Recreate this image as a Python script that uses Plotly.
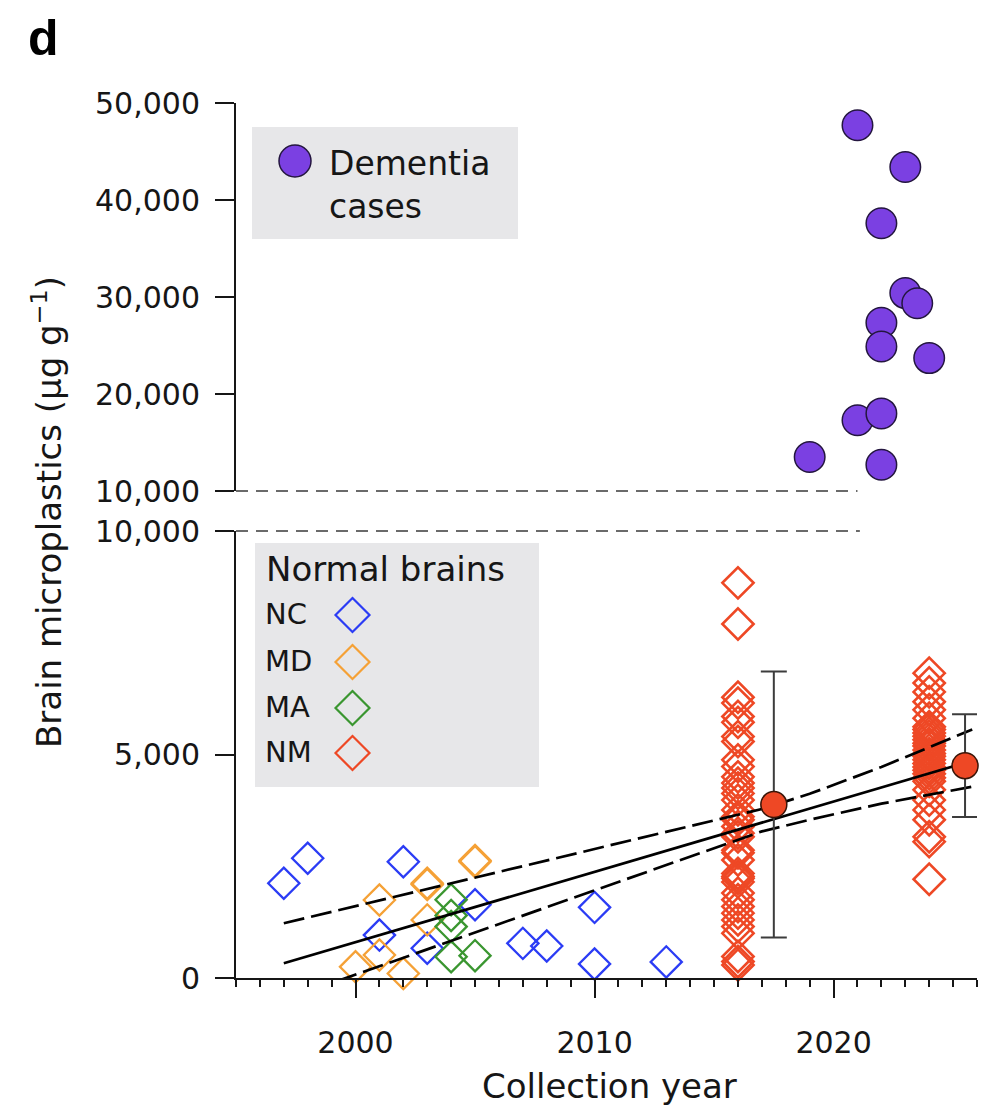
import plotly.graph_objects as go

# ---------------- data ----------------
# Dementia cases (upper panel)
dementia_year = [2021, 2023, 2022, 2023, 2023.5, 2022, 2022, 2024, 2021, 2022, 2019, 2022]
dementia_value = [47700, 43400, 37600, 30400, 29350, 27350, 24900, 23700, 17300, 18000, 13500, 12700]

# Normal brains (lower panel), by cohort
nc_year = [1997, 1998, 2001, 2002, 2003, 2005, 2007, 2008, 2010, 2010, 2013]
nc_value = [2120, 2680, 960, 2600, 665, 1640, 775, 715, 1580, 315, 360]

md_year = [2000, 2001, 2001, 2002, 2003, 2003, 2003, 2005, 2005]
md_value = [250, 1745, 515, 100, 2120, 2090, 1300, 2600, 2630]

ma_year = [2004, 2004, 2004, 2004, 2005]
ma_value = [1750, 1400, 1150, 475, 500]

nm_2016_value = [8840, 7920, 6280, 6150, 5850, 5720, 5400, 5290, 4880, 4730,
                 4500, 4360, 4250, 4130, 3980, 3760, 3610, 3540, 3390, 3240,
                 3160, 2860, 2800, 2640, 2340, 2270, 2230, 2150, 1900, 1750,
                 1600, 1450, 1300, 1150, 1000, 480, 370, 290]
nm_2024_value = [6820, 6600, 6400, 6180, 6000, 5810, 5620, 5560, 5480, 5410,
                 5330, 5250, 5190, 5100, 5020, 4960, 4880, 4800, 4720, 4650,
                 4570, 4480, 4400, 4210, 3980, 3760, 3540, 3160, 3050, 2210]

# NM summary (mean ± s.d.)
summary_year = [2017.5, 2025.5]
summary_mean = [3880, 4750]
summary_sd = [2975, 1150]

# Linear trend with 95% confidence band
fit_year = [1997, 2002, 2007, 2012, 2015, 2017, 2019, 2022, 2025.8]
fit_mid = [330, 1115, 1900, 2685, 3160, 3475, 3790, 4265, 4860]
fit_upper = [1224, 1860, 2495, 3130, 3520, 3780, 4120, 4720, 5560]
fit_lower = [-490, 455, 1400, 2345, 2910, 3280, 3540, 3900, 4280]

# ---------------- styling ----------------
FONT = "DejaVu Sans"
INK = "#161616"
C_NC = "#2B3CF5"
C_MD = "#F5A136"
C_MA = "#3A9630"
C_NM = "#EE4825"
C_DEM = "#7B40E2"
C_BOX = "#E7E7E9"

W, H = 995, 1110
L, R, T, B = 236, 18, 100, 132
PW, PH = W - L - R, H - T - B


def px_x(px):
    return (px - L) / PW


def px_y(py):
    return (H - B - py) / PH


upper_domain = [px_y(491), px_y(103)]
lower_domain = [0, px_y(531)]

fig = go.Figure()

nm_year = [2016] * len(nm_2016_value) + [2024] * len(nm_2024_value)
nm_value = nm_2016_value + nm_2024_value

for xs, ys, col, lw in [(nm_year, nm_value, C_NM, 2.6), (nc_year, nc_value, C_NC, 2.3),
                        (md_year, md_value, C_MD, 2.3), (ma_year, ma_value, C_MA, 2.3)]:
    fig.add_trace(go.Scatter(
        x=xs, y=ys, mode="markers", xaxis="x", yaxis="y",
        marker=dict(color=col, symbol="diamond-open", size=24, line=dict(width=lw)),
        cliponaxis=False, showlegend=False, hoverinfo="skip"))

# trend line and confidence band
fig.add_trace(go.Scatter(x=fit_year, y=fit_mid, mode="lines", xaxis="x", yaxis="y",
                         line=dict(color="black", width=2.7), showlegend=False))
for band in (fit_upper, fit_lower):
    fig.add_trace(go.Scatter(x=fit_year, y=band, mode="lines", xaxis="x", yaxis="y",
                             line=dict(color="black", width=2.7, dash="21px,7px"),
                             showlegend=False))

# NM mean ± s.d.
fig.add_trace(go.Scatter(
    x=summary_year, y=summary_mean, mode="markers", xaxis="x", yaxis="y",
    marker=dict(color=C_NM, size=26, line=dict(color="#3a1508", width=1.5)),
    error_y=dict(type="data", array=summary_sd, visible=True,
                 color="#3c3c3c", thickness=2, width=13),
    cliponaxis=False, showlegend=False))

# dementia cases
fig.add_trace(go.Scatter(
    x=dementia_year, y=dementia_value, mode="markers", xaxis="x", yaxis="y2",
    marker=dict(color=C_DEM, size=30.5, line=dict(color="#24163f", width=1.5)),
    cliponaxis=False, showlegend=False))

tickfont = dict(family=FONT, size=30, color=INK)
yax_common = dict(showline=True, linecolor=INK, linewidth=2, ticks="outside",
                  ticklen=19, tickwidth=2, tickcolor=INK, showgrid=False,
                  zeroline=False, tickfont=tickfont, tickformat=",",
                  ticklabelstandoff=9, anchor="x")

fig.update_layout(
    width=W, height=H,
    margin=dict(l=L, r=R, t=T, b=B),
    paper_bgcolor="white", plot_bgcolor="white",
    showlegend=False,
    xaxis=dict(range=[1995, 2026], tickmode="linear", tick0=2000, dtick=10,
               ticks="outside", ticklen=18, tickwidth=2, tickcolor=INK,
               showline=True, linecolor=INK, linewidth=2, showgrid=False,
               zeroline=False, tickfont=tickfont, ticklabelstandoff=19,
               minor=dict(ticks="outside", ticklen=7, tickwidth=1.5, dtick=1,
                          tick0=1995, tickcolor=INK, showgrid=False),
               anchor="y"),
    yaxis=dict(domain=lower_domain, range=[0, 10000],
               tickvals=[0, 5000, 10000], **yax_common),
    yaxis2=dict(domain=upper_domain, range=[10000, 50000],
                tickvals=[10000, 20000, 30000, 40000, 50000], **yax_common),
)

shapes = []
# axis-break dashed guides at 10,000
shapes.append(dict(type="line", xref="x", yref="y2 domain", x0=1995, x1=2021.0,
                   y0=0, y1=0, line=dict(color="#6a6a6a", width=2, dash="12px,8px")))
shapes.append(dict(type="line", xref="x", yref="y domain", x0=1995, x1=2021.1,
                   y0=1, y1=1, line=dict(color="#6a6a6a", width=2, dash="12px,8px")))

# legend panels
shapes.append(dict(type="rect", xref="paper", yref="paper", layer="below",
                   x0=px_x(252), x1=px_x(518), y0=px_y(239), y1=px_y(127),
                   fillcolor=C_BOX, line=dict(width=0)))
shapes.append(dict(type="rect", xref="paper", yref="paper", layer="below",
                   x0=px_x(255), x1=px_x(539), y0=px_y(787), y1=px_y(543),
                   fillcolor=C_BOX, line=dict(width=0)))

# legend keys
shapes.append(dict(type="circle", xref="paper", yref="paper",
                   xsizemode="pixel", ysizemode="pixel",
                   xanchor=px_x(295), yanchor=px_y(161),
                   x0=-16, x1=16, y0=-16, y1=16,
                   fillcolor=C_DEM, line=dict(color="#24163f", width=1.5)))

key_rows = [("NC", C_NC, 615), ("MD", C_MD, 662), ("MA", C_MA, 708), ("NM", C_NM, 753)]
annotations = []
for label, col, cy in key_rows:
    shapes.append(dict(type="path", xref="paper", yref="paper",
                       xsizemode="pixel", ysizemode="pixel",
                       xanchor=px_x(352.5), yanchor=px_y(cy),
                       path="M -17 0 L 0 17 L 17 0 L 0 -17 Z",
                       line=dict(color=col, width=2.2)))
    annotations.append(dict(xref="paper", yref="paper", x=px_x(263), y=px_y(cy - 1),
                            xanchor="left", yanchor="middle", showarrow=False,
                            text=label, font=dict(family=FONT, size=29, color=INK)))

annotations.append(dict(xref="paper", yref="paper", x=px_x(327), y=px_y(185),
                        xanchor="left", yanchor="middle", align="left",
                        showarrow=False, text="Dementia<br>cases",
                        font=dict(family=FONT, size=33, color=INK)))
annotations.append(dict(xref="paper", yref="paper", x=px_x(264), y=px_y(569),
                        xanchor="left", yanchor="middle", showarrow=False,
                        text="Normal brains",
                        font=dict(family=FONT, size=34, color=INK)))

# axis titles
annotations.append(dict(xref="paper", yref="paper", x=px_x(47), y=px_y(512),
                        xanchor="center", yanchor="middle", textangle=-90,
                        showarrow=False,
                        text="Brain microplastics (μg g<sup>−1</sup>)",
                        font=dict(family=FONT, size=34, color=INK)))
annotations.append(dict(xref="paper", yref="paper", x=px_x(609), y=px_y(1086),
                        xanchor="center", yanchor="middle", showarrow=False,
                        text="Collection year",
                        font=dict(family=FONT, size=34, color=INK)))

# panel letter
annotations.append(dict(xref="paper", yref="paper", x=px_x(26), y=px_y(38),
                        xanchor="left", yanchor="middle", showarrow=False,
                        text="<b>d</b>",
                        font=dict(family="Liberation Sans", size=50, color="black")))

fig.update_layout(shapes=shapes, annotations=annotations)

fig.write_html("out.html")
